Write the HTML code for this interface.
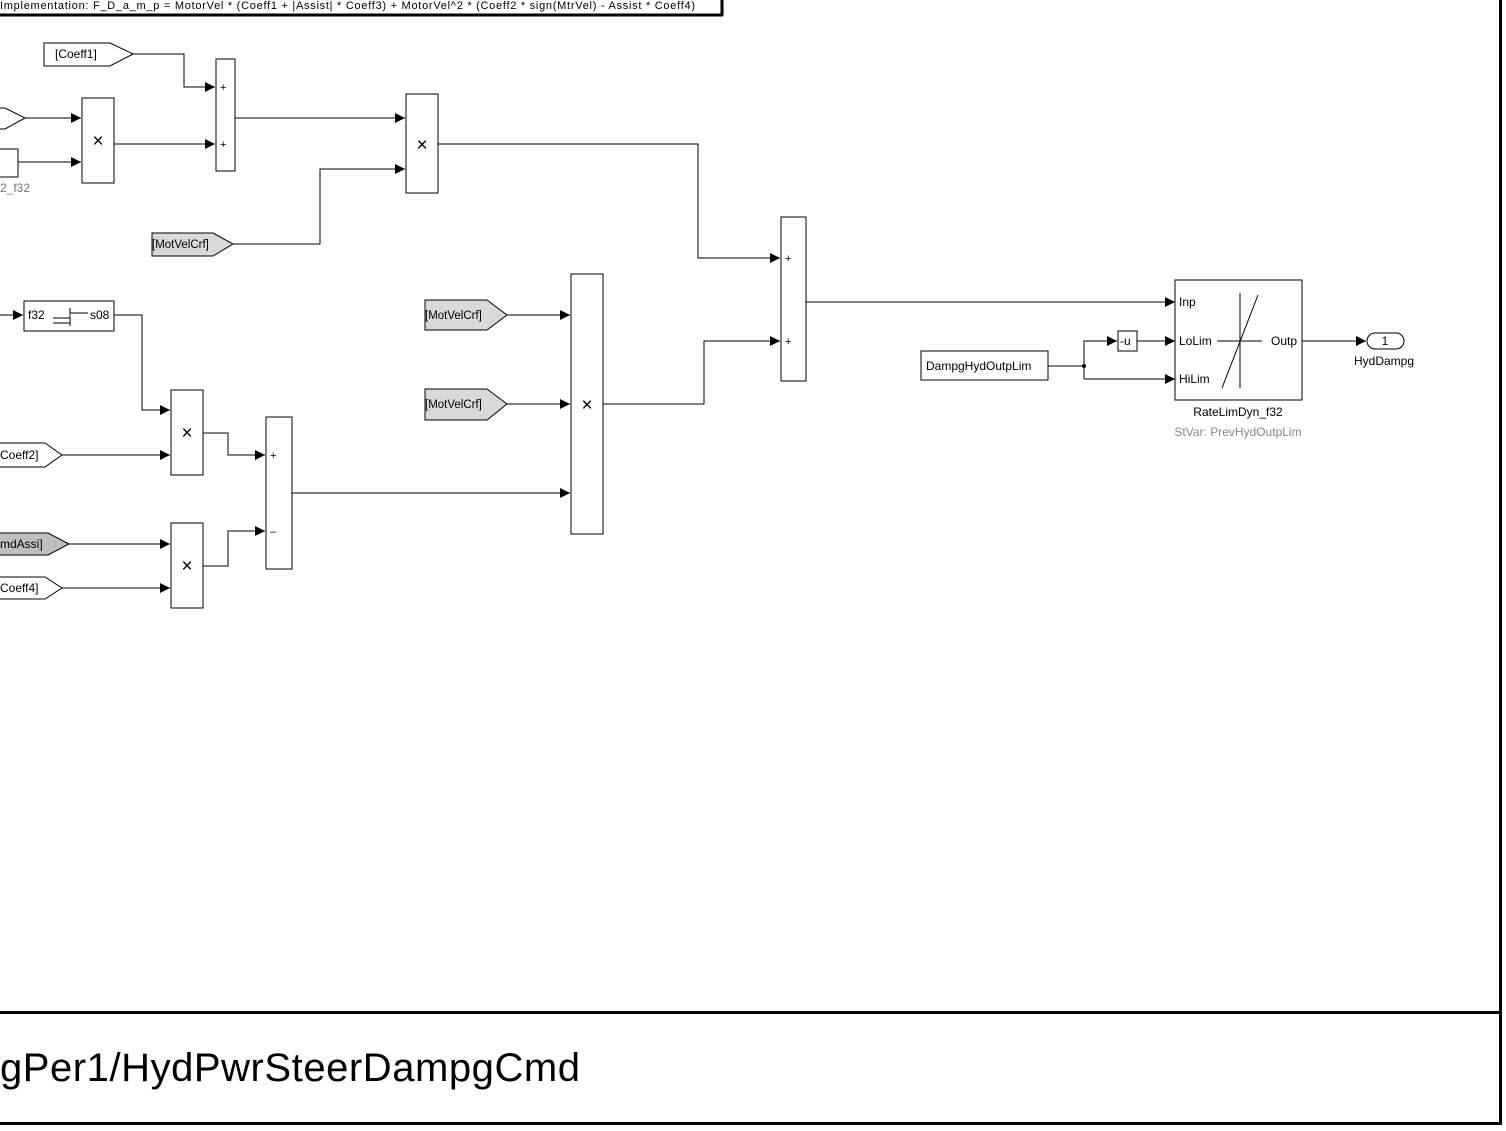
<!DOCTYPE html>
<html><head><meta charset="utf-8"><style>
html,body{margin:0;padding:0;background:#fff;}
svg{display:block;font-family:"Liberation Sans",Arial,sans-serif;}
</style></head><body>
<svg width="1506" height="1131" viewBox="0 0 1506 1131" xmlns="http://www.w3.org/2000/svg">
<defs>
<marker id="a" viewBox="0 0 10 10" refX="10" refY="5" markerWidth="10" markerHeight="10" markerUnits="userSpaceOnUse" orient="auto"><path d="M0,0 L10,5 L0,10 z" fill="#000"/></marker>
</defs>
<rect width="1506" height="1131" fill="#fff"/>
<rect x="-3" y="-3" width="724" height="17" fill="#fff" stroke="#000" stroke-width="1"/>
<line x1="722" y1="0" x2="722" y2="16" stroke="#000" stroke-width="3"/>
<line x1="0" y1="15.5" x2="723" y2="15.5" stroke="#000" stroke-width="2"/>
<text x="0" y="9" font-size="11" textLength="695">Implementation:  F_D_a_m_p = MotorVel * (Coeff1 + |Assist| * Coeff3) + MotorVel^2 * (Coeff2 * sign(MtrVel) - Assist * Coeff4)</text>

<g fill="none" stroke="#000" stroke-width="1">
<polyline points="133,54 184,54 184,87 215,87" marker-end="url(#a)"/>
<polyline points="25,118 81,118" marker-end="url(#a)"/>
<polyline points="18,162 81,162" marker-end="url(#a)"/>
<polyline points="114,144 215,144" marker-end="url(#a)"/>
<polyline points="235,118 405,118" marker-end="url(#a)"/>
<polyline points="233,244 320,244 320,169 405,169" marker-end="url(#a)"/>
<polyline points="438,144 698,144 698,258 780,258" marker-end="url(#a)"/>
<polyline points="806,302 1175,302" marker-end="url(#a)"/>
<polyline points="507,315 570,315" marker-end="url(#a)"/>
<polyline points="507,404 570,404" marker-end="url(#a)"/>
<polyline points="292,493 570,493" marker-end="url(#a)"/>
<polyline points="603,404 704,404 704,341 780,341" marker-end="url(#a)"/>
<polyline points="0,315 23,315" marker-end="url(#a)"/>
<polyline points="114,315 142,315 142,410 170,410" marker-end="url(#a)"/>
<polyline points="62,455 170,455" marker-end="url(#a)"/>
<polyline points="203,433 228,433 228,455 265,455" marker-end="url(#a)"/>
<polyline points="69,544 170,544" marker-end="url(#a)"/>
<polyline points="62,588 170,588" marker-end="url(#a)"/>
<polyline points="203,566 228,566 228,531 265,531" marker-end="url(#a)"/>
<polyline points="1048,366 1084,366"/>
<polyline points="1084,379 1084,341 1117,341" marker-end="url(#a)"/>
<polyline points="1084,379 1175,379" marker-end="url(#a)"/>
<polyline points="1137,341 1175,341" marker-end="url(#a)"/>
<polyline points="1302,341 1366,341" marker-end="url(#a)"/>

<polygon points="44,43 110,43 133,54 110,66 44,66" fill="#fff"/>
<polygon points="-5,108 5,108 25,118 5,129 -5,129" fill="#fff"/>
<rect x="-5" y="149" width="23" height="28" fill="#fff"/>
<rect x="82" y="98" width="32" height="85" fill="#fff"/>
<rect x="216" y="59" width="19" height="112" fill="#fff"/>
<rect x="406" y="94" width="32" height="99" fill="#fff"/>
<polygon points="152,233 213,233 233,244 213,256 152,256" fill="#d9d9d9"/>
<rect x="781" y="217" width="25" height="164" fill="#fff"/>
<rect x="571" y="274" width="32" height="260" fill="#fff"/>
<polygon points="425,300 487,300 507,315 487,330 425,330" fill="#d9d9d9"/>
<polygon points="425,389 487,389 507,404 487,420 425,420" fill="#d9d9d9"/>
<rect x="24" y="301" width="90" height="30" fill="#fff"/>
<rect x="171" y="390" width="32" height="85" fill="#fff"/>
<polygon points="-5,443 45,443 62,455 45,467 -5,467" fill="#fff"/>
<rect x="266" y="417" width="26" height="152" fill="#fff"/>
<rect x="171" y="523" width="32" height="85" fill="#fff"/>
<polygon points="-5,533 48,533 69,544 48,555 -5,555" fill="#bfbfbf"/>
<polygon points="-5,577 45,577 62,588 45,599 -5,599" fill="#fff"/>
<rect x="921" y="351" width="127" height="29" fill="#fff"/>
<rect x="1118" y="331" width="19" height="20" fill="#fff"/>
<rect x="1175" y="280" width="127" height="120" fill="#fff"/>
<line x1="1240" y1="293" x2="1240" y2="388"/>
<line x1="1217" y1="341" x2="1262" y2="341"/>
<line x1="1222" y1="388" x2="1258" y2="295"/>
<rect x="1367" y="333" width="37" height="16" rx="8" fill="#fff"/>
<line x1="53" y1="318" x2="70" y2="318"/>
<line x1="53" y1="323" x2="70" y2="323"/>
<line x1="70" y1="308" x2="70" y2="326"/>
<line x1="70" y1="313" x2="88" y2="313"/>
</g>
<circle cx="1084" cy="366" r="2" fill="#000"/>

<g font-size="12" fill="#000">
<text x="55" y="58">[Coeff1]</text>
<text x="0" y="192" fill="#777">2_f32</text>
<text x="152" y="248" font-size="11.5">[MotVelCrf]</text>
<text x="425" y="319" font-size="11.5">[MotVelCrf]</text>
<text x="425" y="408" font-size="11.5">[MotVelCrf]</text>
<text x="28" y="319">f32</text>
<text x="90" y="319">s08</text>
<text x="0" y="459">Coeff2]</text>
<text x="0" y="548">mdAssi]</text>
<text x="0" y="592">Coeff4]</text>
<text x="926" y="370">DampgHydOutpLim</text>
<text x="1120" y="345">-u</text>
<text x="1179" y="306">Inp</text>
<text x="1179" y="345">LoLim</text>
<text x="1179" y="383">HiLim</text>
<text x="1297" y="345" text-anchor="end">Outp</text>
<text x="1238" y="416" text-anchor="middle">RateLimDyn_f32</text>
<text x="1238" y="436" text-anchor="middle" fill="#888">StVar: PrevHydOutpLim</text>
<text x="1385" y="345" text-anchor="middle">1</text>
<text x="1384" y="365" text-anchor="middle">HydDampg</text>
</g>
<g font-size="19" text-anchor="middle">
<text x="98" y="147">×</text>
<text x="422" y="151">×</text>
<text x="587" y="411">×</text>
<text x="187" y="439">×</text>
<text x="187" y="572">×</text>
</g>
<g font-size="11">
<text x="220" y="91">+</text>
<text x="220" y="148">+</text>
<text x="785" y="262">+</text>
<text x="785" y="345">+</text>
<text x="270" y="459">+</text>
<text x="270" y="535">–</text>
</g>

<rect x="-2" y="1011" width="1504" height="3" fill="#000"/>
<rect x="-2" y="1122" width="1504" height="3" fill="#000"/>
<rect x="1499" y="0" width="3" height="1125" fill="#000"/>
<text x="0" y="1081" font-size="40" textLength="580">gPer1/HydPwrSteerDampgCmd</text>
</svg>
</body></html>
